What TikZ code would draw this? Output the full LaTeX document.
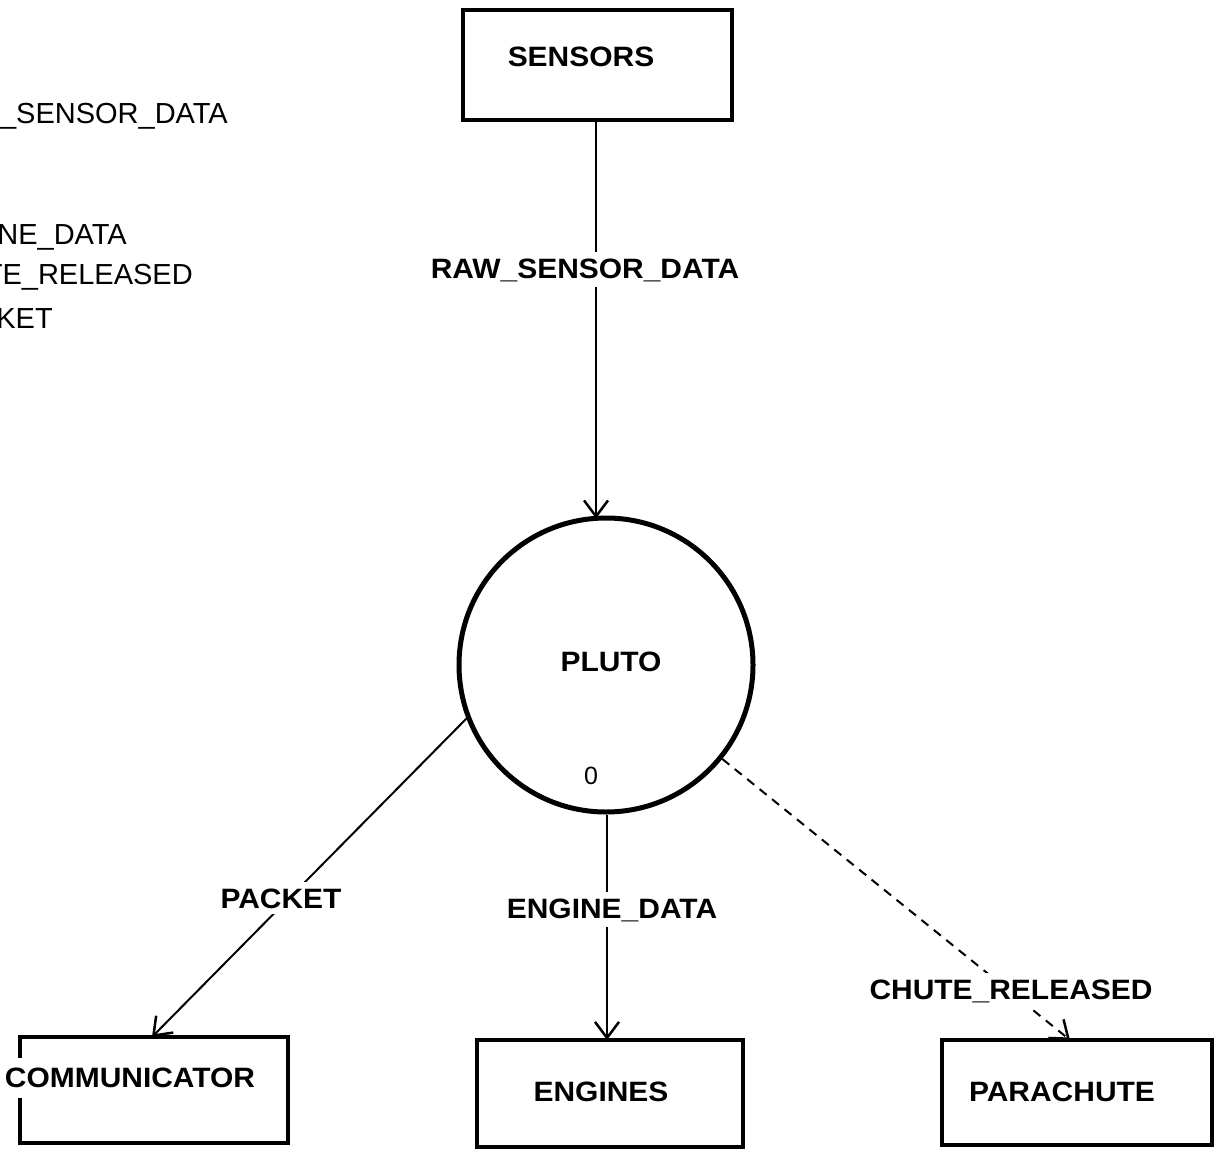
\documentclass[tikz,border=0pt]{standalone}
\usepackage{fontspec}
\setmainfont{Liberation Sans}
\newfontfamily\labelfont{Liberation Sans}[FakeStretch=1.07]
\usetikzlibrary{arrows.meta}

\tikzset{
  entity/.style={draw, line width=4.5pt, rectangle, inner sep=0pt},
  process/.style={draw, line width=5pt, circle, inner sep=0pt, minimum size=294pt},
  boldtext/.style={font=\labelfont\bfseries\fontsize{28}{30}\selectfont, inner sep=0pt},
  flowlabel/.style={boldtext, fill=white, inner xsep=2pt, inner ysep=6pt, anchor=base},
  listtext/.style={font=\fontsize{29}{31}\selectfont, inner sep=0pt, anchor=base east},
  flow/.style={line width=2pt, -{Straight Barb[length=16pt, width=24pt, line width=2.5pt]}},
  ctrlflow/.style={flow, dash pattern=on 9pt off 7pt}
}

\begin{document}
\begin{tikzpicture}[x=1pt, y=-1pt]
  \useasboundingbox (0,0) rectangle (1217,1150);
  \clip (0,0) rectangle (1217,1150);

  % list of data flows (left margin)
  \node[listtext] (lraw)   at (228,123.5) {RAW\_SENSOR\_DATA};
  \node[listtext] (leng)   at (127,244.5) {ENGINE\_DATA};
  \node[listtext] (lchute) at (193,284.5) {CHUTE\_RELEASED};
  \node[listtext] (lpack)  at (53,328)    {PACKET};

  % terminators
  \node[entity, minimum width=269pt, minimum height=110pt] (sensors) at (597.5,65) {};
  \node[boldtext] (sensorsT) at (581,57) {SENSORS};

  \node[entity, minimum width=268pt, minimum height=106pt] (comm) at (154,1090) {};
  \node[boldtext, fill=white, inner xsep=1pt, inner ysep=10pt] (commT) at (130,1078) {COMMUNICATOR};

  \node[entity, minimum width=266pt, minimum height=107pt] (engines) at (610,1093.5) {};
  \node[boldtext] (enginesT) at (601,1092) {ENGINES};

  \node[entity, minimum width=270pt, minimum height=105pt] (parachute) at (1077,1092.5) {};
  \node[boldtext] (parachuteT) at (1062,1092) {PARACHUTE};

  % process bubble
  \node[process] (pluto) at (606,665) {};
  \node[boldtext] (plutoT) at (611,662) {PLUTO};
  \node[font=\fontsize{25}{27}\selectfont, inner sep=0pt] (plutoN) at (591,776) {0};

  % arrow end points on the boxes and the bubble
  \coordinate (sensorsOut) at (596,120);
  \coordinate (plutoIn)    at (596,518.5);
  \coordinate (commIn)     at (152,1037);
  \coordinate (enginesIn)  at (607,1040);
  \coordinate (chuteIn)    at (1070,1040);

  % data flows
  \draw[flow] (sensorsOut) -- (plutoIn);
  \draw[flow] (pluto.201) -- (commIn);
  \draw[flow] (pluto.south -| enginesIn) -- (enginesIn);
  \draw[ctrlflow] (pluto) -- (chuteIn);

  % flow labels
  \node[flowlabel] (rawL)   at (585,278) {RAW\_SENSOR\_DATA};
  \node[flowlabel] (packL)  at (281,908) {PACKET};
  \node[flowlabel] (engL)   at (612,918) {ENGINE\_DATA};
  \node[flowlabel] (chuteL) at (1011,999) {CHUTE\_RELEASED};
\end{tikzpicture}
\end{document}
